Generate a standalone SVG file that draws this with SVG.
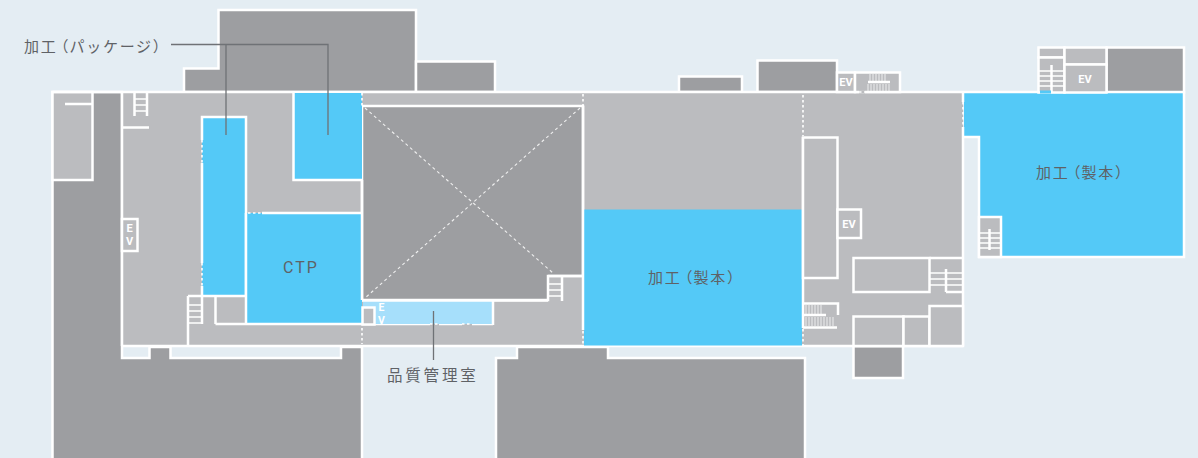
<svg xmlns="http://www.w3.org/2000/svg" width="1198" height="458" viewBox="0 0 1198 458">
<style>
.d{fill:#9d9ea1;stroke:#fff;stroke-width:2.5}
.g{fill:#bbbcbf;stroke:#fff;stroke-width:2.5}
.b{fill:#54c9f7}
.lb{fill:#a6dffb}
.w{fill:none;stroke:#fff;stroke-width:2.5}
.t{fill:none;stroke:#fff;stroke-width:1.6}
.dash{fill:none;stroke:#fff;stroke-width:1.6;stroke-dasharray:2.5 2.5}
.diag{fill:none;stroke:#f0f0f0;stroke-width:1.1;stroke-dasharray:3 3}
.lead{fill:none;stroke:#6f7276;stroke-width:1.3}
.lbl{font-family:"Noto Sans CJK JP","Noto Sans",sans-serif;font-size:15px;letter-spacing:1.7px;fill:#5f6266}
.p{font-feature-settings:"palt"}
.ev{font-family:Roboto,"Liberation Sans",sans-serif;font-size:11px;font-weight:700;fill:#fff;text-anchor:middle}
</style>
<rect width="1198" height="458" fill="#e4edf3"/>
<g id="surrounding-buildings">
<path class="d" d="M184 92V68.500H218.500V10H416V92Z"/>
<path class="d" d="M416 92V61.500H495V92Z"/>
<path class="d" d="M679 92V76.500H742V92Z"/>
<path class="d" d="M757.500 92V60.500H837V92Z"/>
<path class="d" d="M52.500 92H122V358H149.500V347H170.500V358H341V347H362V460H52.500Z"/>
<path class="d" d="M496 460V358H517V347H608V358H805V460Z"/>
<rect class="d" x="853.500" y="346" width="49.500" height="32"/>
<rect class="d" x="1106.500" y="47.500" width="77.500" height="45"/>
</g>
<g id="main-floor">
<rect x="122" y="92" width="841" height="254" fill="#bbbcbf"/>
<rect class="g" x="52.500" y="92" width="40" height="88"/>
<path class="w" d="M52.500 92H963M122 92V346M122 346H963M65 104H92M122 127.500H149"/>
</g>
<g id="void">
<path class="d" d="M362 106H583V276H548V300H362Z"/>
<path class="diag" d="M365 108L553 273M580 108L365 298"/>
<path class="w" d="M548 276H583M562 276V301"/>
<path class="t" d="M548 284H562M548 290H562M548 296H562"/>
</g>
<g id="room-package-left">
<rect class="b" x="202" y="117" width="44" height="179"/>
<path class="w" d="M202 163V263M202 286V296M202 140V117H246V296M188 296H246"/>
<path class="dash" d="M202 140V163M202 263V286"/>
</g>
<g id="room-package-right">
<rect class="b" x="294" y="93" width="68" height="87"/>
<path class="w" d="M293.500 92V180H362"/>
<path class="dash" d="M362 93V106"/>
</g>
<g id="room-ctp">
<rect class="b" x="246" y="213" width="116" height="111"/>
<path class="w" d="M262 213H362M246 213V324M215.500 324H430M439 324H462M472 324H493M362 180V300"/>
<path class="dash" d="M248 213H262"/>
<text x="283" y="273" font-family="Roboto,'Liberation Sans',sans-serif" font-size="16" letter-spacing="2" fill="#5f6266">CTP</text>
</g>
<g id="room-quality">
<rect class="lb" x="363" y="301" width="130" height="23"/>
<path class="w" d="M362 300.500H548M493 300V325"/>
<rect class="g" x="362.500" y="307.500" width="12" height="17"/>
<text class="ev" x="381.500" y="311" style="font-size:10.500px">E</text>
<text class="ev" x="381.500" y="323.500" style="font-size:10.500px">V</text>
<path class="dash" d="M430 324H439M462 324H472M362 328V344"/>
</g>
<g id="room-binding-center">
<rect class="b" x="584" y="209.500" width="218" height="136"/>
<path class="w" d="M583 106V330M803 137V328"/>
<path class="dash" d="M583 94V106M583 331V346M803 95V136M803 329V346"/>
<text class="lbl" x="648" y="283">加工<tspan class="p" dx="3">（</tspan>製本）</text>
</g>
<g id="room-binding-right">
<path class="b" d="M964 93H1184V257H980V137H964Z"/>
<path class="w" d="M963 92H1184V257H979V137H964M963 127V346M963 92V102"/>
<path class="dash" d="M963 102V127"/>
<text class="lbl" x="1036" y="178">加工<tspan class="p" dx="3">（</tspan>製本）</text>
</g>
<g id="left-stairs">
<path class="w" d="M134.500 92V116M147 92V116M188 296V346M202 296V324M215.500 296V324"/>
<path class="t" d="M134 99H147M134 105H147M134 111H147M188 305H202M188 311H202M188 317H202M188 323H202"/>
</g>
<g id="ev-left">
<rect class="g" x="122" y="219" width="15.500" height="32"/>
<text class="ev" x="129.500" y="232">E</text>
<text class="ev" x="129.500" y="244.500">V</text>
</g>
<g id="right-core">
<rect class="g" x="803" y="137.500" width="34.500" height="140.500"/>
<rect class="g" x="837.500" y="209.500" width="23.500" height="28.500"/>
<text class="ev" x="849" y="228">EV</text>
<rect class="g" x="853.500" y="258" width="76" height="34"/>
<path class="w" d="M929.500 258H963M946 269V292M946 292H963"/>
<path class="t" d="M930 273H963M930 279H963M930 285H963"/>
<rect class="g" x="853.500" y="316.500" width="50" height="29.500"/>
<rect class="g" x="903.500" y="316.500" width="26" height="29.500"/>
<rect class="g" x="929.500" y="306" width="33.500" height="40"/>
<path class="w" d="M803 303.500H838V315M803 315H826M803 327.500H837"/>
<path d="M806 305V314M809 305V314M812 305V314M815 305V314M818 305V314M821 305V314M806 317V326M809 317V326M812 317V326M815 317V326M818 317V326M821 317V326M824 317V326M827 317V326M830 317V326M833 317V326" stroke="#fff" stroke-width="1" opacity=".75" fill="none"/>
</g>
<g id="top-core">
<rect class="g" x="837" y="72.500" width="18" height="19.500"/>
<text class="ev" x="846" y="86">EV</text>
<rect class="g" x="855" y="72.500" width="45" height="19.500"/>
<path class="w" d="M868 82H890"/>
<path d="M870 74V81M873 74V81M876 74V81M879 74V81M882 74V81M885 74V81M868 84V91M871 84V91M874 84V91M877 84V91M880 84V91M883 84V91M886 84V91M889 84V91" stroke="#fff" stroke-width="1" opacity=".75" fill="none"/>
<path d="M859 92H865" stroke="#bbbcbf" stroke-width="3"/>
<path class="dash" d="M859 92H865"/>
</g>
<g id="top-right-core">
<rect class="g" x="1038.500" y="47.500" width="26" height="10"/>
<rect class="g" x="1038.500" y="57.500" width="26" height="35"/>
<rect class="g" x="1064.500" y="47.500" width="42" height="17"/>
<rect class="g" x="1064.500" y="64.500" width="42" height="28"/>
<text class="ev" x="1085" y="83">EV</text>
<path class="w" d="M1051.500 65V92"/>
<path class="t" d="M1039 71H1064M1039 76H1064M1039 81H1064M1039 86H1064"/>
<path d="M1040 92H1051" stroke="#54c9f7" stroke-width="3"/>
</g>
<g id="stair-right-blue">
<rect class="g" x="979" y="217" width="22" height="40"/>
<path class="w" d="M989.500 229V250"/>
<path class="t" d="M980 233H1000M980 238H1000M980 243H1000M980 248H1000"/>
</g>
<g id="connectors">
<path class="lead" d="M171 44.500H328V135M226 44.500V135M433.500 311V360"/>
</g>
<g id="labels">
<text class="lbl" x="24" y="52">加工<tspan class="p" dx="3">（</tspan>パッケージ）</text>
<text class="lbl" x="387" y="381" style="font-size:15.500px;letter-spacing:2.800px">品質管理室</text>
</g>
</svg>
